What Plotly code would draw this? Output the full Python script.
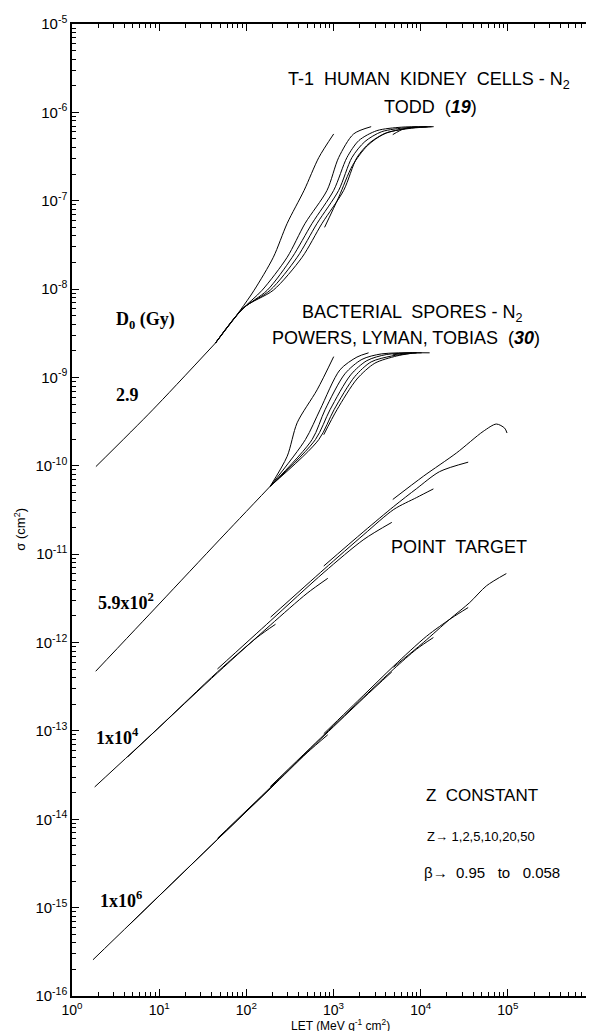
import plotly.graph_objects as go

# ---------------- D0 = 2.9 Gy : T-1 human kidney cells ----------------
kid_base_let = [1.88, 8.43, 44.2]
kid_base_sig = [9.8e-11, 4.3e-10, 2.45e-9]
kid_a_let = [44.2, 85.4, 123, 204, 294, 460, 678, 1005]
kid_a_sig = [2.45e-9, 5.78e-9, 9.72e-9, 2.29e-8, 5.54e-8, 1.31e-7, 3.08e-7, 5.7e-7]
kid_b_let = [44.2, 87.7, 152, 294, 472, 843, 1146, 1701, 2705]
kid_b_sig = [2.45e-9, 5.78e-9, 9.72e-9, 2.29e-8, 5.54e-8, 1.31e-7, 3.08e-7, 5.7e-7, 6.89e-7]
kid_c_let = [44.2, 90, 174, 336, 568, 1005, 1426, 1955, 3140, 6063, 11710]
kid_c_sig = [2.45e-9, 5.93e-9, 9.72e-9, 2.29e-8, 5.54e-8, 1.31e-7, 3.08e-7, 4.8e-7, 6.21e-7, 6.8e-7, 6.89e-7]
kid_d_let = [44.2, 92.4, 188, 383, 648, 1146, 1627, 2291, 3581, 6918, 13360]
kid_d_sig = [2.45e-9, 6.09e-9, 9.72e-9, 2.29e-8, 5.54e-8, 1.31e-7, 3.08e-7, 4.67e-7, 6.05e-7, 6.71e-7, 6.89e-7]
kid_e_let = [44.2, 94.9, 204, 436, 739, 1309, 1857, 2614, 4085, 7889, 14090]
kid_e_sig = [2.45e-9, 6.25e-9, 9.72e-9, 2.29e-8, 5.54e-8, 1.31e-7, 3.08e-7, 4.54e-7, 5.89e-7, 6.62e-7, 6.89e-7]
kid_f_let = [790, 1150, 1650, 2450, 3800, 7000, 12000]
kid_f_sig = [5.0e-8, 1.1e-7, 2.5e-7, 4.2e-7, 5.7e-7, 6.6e-7, 6.85e-7]
kid_g_let = [4786, 6400, 9000]
kid_g_sig = [5.6e-7, 6.5e-7, 6.85e-7]

# ---------------- D0 = 5.9x10^2 Gy : bacterial spores ----------------
spo_base_let = [1.87, 10, 50, 188]
spo_base_sig = [4.73e-13, 2.73e-12, 1.48e-11, 5.87e-11]
spo_a_let = [188, 294, 383, 648, 1005]
spo_a_sig = [5.87e-11, 1.28e-10, 3.07e-10, 7.24e-10, 1.72e-9]
spo_b_let = [188, 476, 701, 1186, 1857, 2525]
spo_b_sig = [5.87e-11, 1.98e-10, 4.31e-10, 1.22e-9, 1.7e-9, 1.9e-9]
spo_c_let = [188, 568, 800, 1352, 2117, 3581, 12670]
spo_c_sig = [5.87e-11, 1.98e-10, 4.31e-10, 1.1e-9, 1.6e-9, 1.85e-9, 1.9e-9]
spo_d_let = [188, 620, 912, 1575, 2415, 4085, 10260]
spo_d_sig = [5.87e-11, 1.98e-10, 4.31e-10, 1.07e-9, 1.55e-9, 1.82e-9, 1.9e-9]
spo_e_let = [188, 678, 1014, 1750, 2705, 4663, 8900]
spo_e_sig = [5.87e-11, 1.98e-10, 4.31e-10, 1.02e-9, 1.5e-9, 1.75e-9, 1.9e-9]
spo_f_let = [773, 1096, 1857, 2980, 5300, 7900]
spo_f_sig = [2.25e-10, 4.31e-10, 9.6e-10, 1.45e-9, 1.75e-9, 1.88e-9]
spo_g_let = [4786, 6400, 9000]
spo_g_sig = [1.8e-9, 1.88e-9, 1.9e-9]

# ---------------- D0 = 1x10^4 Gy (point target) ----------------
p4_z1_let = [1.82, 9.61, 46.6, 134, 216]
p4_z1_sig = [2.32e-14, 1.06e-13, 4.65e-13, 1.15e-12, 1.61e-12]
p4_z2_let = [4.37, 46.6, 188, 498, 859]
p4_z2_sig = [5.1e-14, 4.53e-13, 1.57e-12, 3.61e-12, 5.33e-12]
p4_z5_let = [46.6, 188, 779, 2231, 4663]
p4_z5_sig = [5.02e-13, 1.75e-12, 6.24e-12, 1.47e-11, 2.29e-11]
p4_z10_let = [190, 779, 2231, 4915, 9000, 14000]
p4_z10_sig = [1.94e-12, 6.75e-12, 1.67e-11, 3.21e-11, 4.38e-11, 5.48e-11]
p4_z20_let = [773, 2231, 4915, 9000, 16500, 35100]
p4_z20_sig = [7.35e-12, 1.81e-11, 3.47e-11, 5.53e-11, 8.6e-11, 1.1e-10]
p4_z50_let = [4786, 10740, 25800, 52100, 73900, 91900, 97900]
p4_z50_sig = [4.16e-11, 7.62e-11, 1.4e-10, 2.45e-10, 2.97e-10, 2.67e-10, 2.35e-10]

# ---------------- D0 = 1x10^6 Gy (point target) ----------------
p6_z1_let = [1.74, 9.61, 46.6, 214]
p6_z1_sig = [2.57e-16, 1.31e-15, 5.91e-15, 2.53e-14]
p6_z2_let = [4.37, 46.6, 188, 498, 859]
p6_z2_sig = [6.17e-16, 5.91e-15, 2.22e-14, 5.66e-14, 9.04e-14]
p6_z5_let = [46.6, 188, 779, 2231, 4663]
p6_z5_sig = [6.07e-15, 2.28e-14, 8.81e-14, 2.37e-13, 4.65e-13]
p6_z10_let = [188, 779, 2231, 4915, 9000, 14000]
p6_z10_sig = [2.34e-14, 9.04e-14, 2.43e-13, 5.02e-13, 8.44e-13, 1.14e-12]
p6_z20_let = [773, 2231, 4915, 11700, 22600, 35100]
p6_z20_sig = [9.29e-14, 2.55e-13, 5.43e-13, 1.18e-12, 1.89e-12, 2.49e-12]
p6_z50_let = [4875, 10740, 21600, 36600, 56800, 96100]
p6_z50_sig = [5.25e-13, 1.0e-12, 1.84e-12, 2.84e-12, 4.38e-12, 6.03e-12]

x_tick_vals = [1, 10, 100, 1e3, 1e4, 1e5, 1e6]
x_tick_text = ["10<sup>0</sup>", "10<sup>1</sup>", "10<sup>2</sup>", "10<sup>3</sup>",
               "10<sup>4</sup>", "10<sup>5</sup>", "10<sup>6</sup>"]
y_tick_vals = [1e-16, 1e-15, 1e-14, 1e-13, 1e-12, 1e-11, 1e-10, 1e-9, 1e-8, 1e-7, 1e-6, 1e-5]
y_tick_text = ["10<sup>-16</sup>", "10<sup>-15</sup>", "10<sup>-14</sup>", "10<sup>-13</sup>",
               "10<sup>-12</sup>", "10<sup>-11</sup>", "10<sup>-10</sup>", "10<sup>-9</sup>",
               "10<sup>-8</sup>", "10<sup>-7</sup>", "10<sup>-6</sup>", "10<sup>-5</sup>"]

curves = [
    (kid_base_let, kid_base_sig), (kid_a_let, kid_a_sig), (kid_b_let, kid_b_sig),
    (kid_c_let, kid_c_sig), (kid_d_let, kid_d_sig), (kid_e_let, kid_e_sig),
    (kid_f_let, kid_f_sig), (kid_g_let, kid_g_sig),
    (spo_base_let, spo_base_sig), (spo_a_let, spo_a_sig), (spo_b_let, spo_b_sig),
    (spo_c_let, spo_c_sig), (spo_d_let, spo_d_sig), (spo_e_let, spo_e_sig),
    (spo_f_let, spo_f_sig), (spo_g_let, spo_g_sig),
    (p4_z1_let, p4_z1_sig), (p4_z2_let, p4_z2_sig), (p4_z5_let, p4_z5_sig),
    (p4_z10_let, p4_z10_sig), (p4_z20_let, p4_z20_sig), (p4_z50_let, p4_z50_sig),
    (p6_z1_let, p6_z1_sig), (p6_z2_let, p6_z2_sig), (p6_z5_let, p6_z5_sig),
    (p6_z10_let, p6_z10_sig), (p6_z20_let, p6_z20_sig), (p6_z50_let, p6_z50_sig),
]

fig = go.Figure()
for xs, ys in curves:
    fig.add_trace(go.Scatter(x=xs, y=ys, mode="lines",
                             line=dict(color="black", width=1, shape="spline", smoothing=0.8),
                             showlegend=False, hoverinfo="skip"))

W, H = 594, 1031
L, R, T, B = 64, 5, 13, 43
PW, PH = W - L - R, H - T - B


def px(xp):
    return (xp - L) / PW


def py(yp):
    return (H - B - yp) / PH


sans = "Liberation Sans"
serif = "Liberation Serif"
ann = []


def add_text(text, xp, yp, size, family=sans, angle=0, anchor="left"):
    ann.append(dict(text=text, x=px(xp), y=py(yp), xref="paper", yref="paper", showarrow=False,
                    xanchor=anchor, yanchor="middle", textangle=angle,
                    font=dict(family=family, size=size, color="black")))


add_text("T-1  HUMAN  KIDNEY  CELLS - N<sub>2</sub>", 279, 70, 18)
add_text("TODD  (<b><i>19</i></b>)", 375, 96, 18)
add_text("BACTERIAL  SPORES - N<sub>2</sub>", 293, 303, 18)
add_text("POWERS, LYMAN, TOBIAS  (<b><i>30</i></b>)", 263, 328, 18)
add_text("POINT  TARGET", 382, 538, 18)
add_text("Z  CONSTANT", 417, 787, 17)
add_text("Z\u2192 1,2,5,10,20,50", 418, 828, 13)
add_text("\u03b2\u2192  0.95   to   0.058", 415, 864, 15)
add_text("<b>D<sub>0</sub> (Gy)</b>", 106, 310, 18, serif)
add_text("<b>2.9</b>", 106, 385, 18, serif)
add_text("<b>5.9x10<sup>2</sup></b>", 88, 592, 18, serif)
add_text("<b>1x10<sup>4</sup></b>", 86, 728, 18, serif)
add_text("<b>1x10<sup>6</sup></b>", 90, 891, 18, serif)
ann.append(dict(text="LET (MeV g<sup>-1</sup> cm<sup>2</sup>)", x=px(334), y=0, xref="paper", yref="paper",
                yshift=-20, showarrow=False, xanchor="center", yanchor="top", borderpad=0,
                font=dict(family=sans, size=12, color="black")))
add_text("\u03c3 (cm<sup>2</sup>)", 12, 520, 13, angle=-90, anchor="center")

axis_common = dict(type="log", showgrid=False, zeroline=False, showline=True, linecolor="black",
                   linewidth=1.5, mirror="ticks", ticks="inside", ticklen=7, tickwidth=1.2,
                   tickcolor="black",
                   minor=dict(ticks="inside", ticklen=4, tickwidth=1, tickcolor="black",
                              dtick="D1", showgrid=False))

fig.update_layout(
    width=W, height=H, margin=dict(l=L, r=R, t=T, b=B),
    paper_bgcolor="white", plot_bgcolor="white",
    xaxis=dict(axis_common, range=[0, 6], tickvals=x_tick_vals, ticktext=x_tick_text,
               tickfont=dict(family=sans, size=14, color="black")),
    yaxis=dict(axis_common, range=[-16, -5], tickvals=y_tick_vals, ticktext=y_tick_text,
               tickfont=dict(family=sans, size=15, color="black")),
    annotations=ann,
)

fig.write_html("out.html")
